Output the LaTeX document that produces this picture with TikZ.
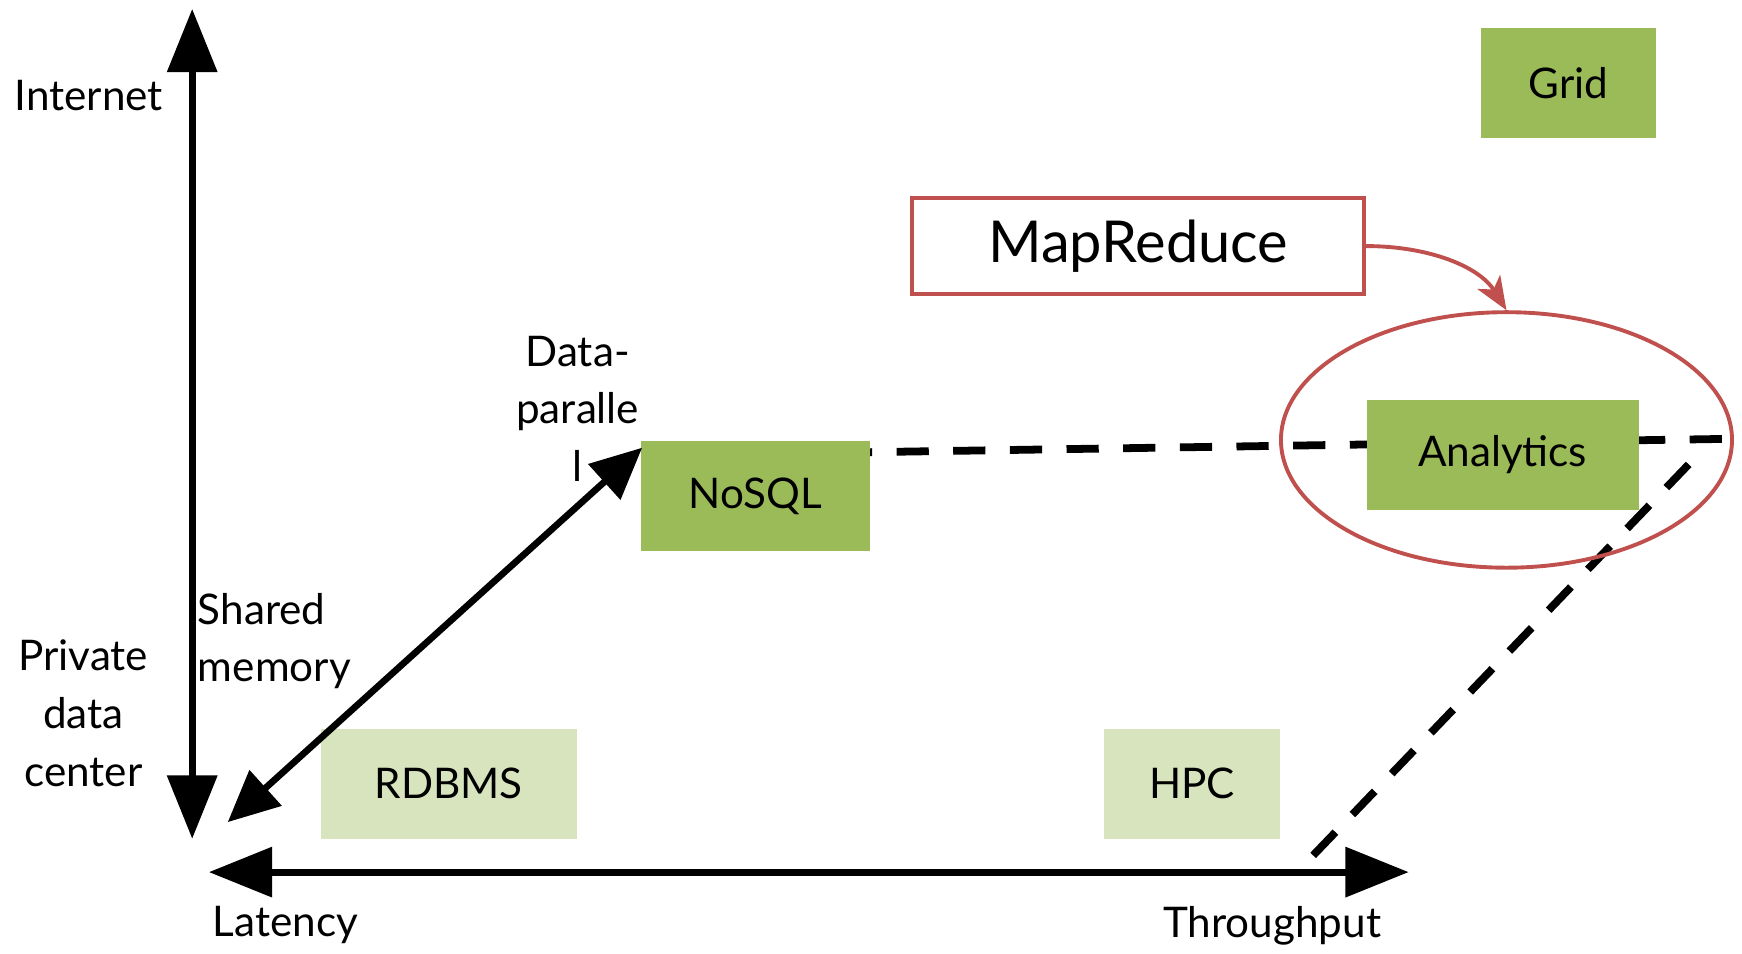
\documentclass[tikz,border=0pt]{standalone}
\usepackage{fontspec}
\setmainfont{Lato}
\usetikzlibrary{arrows.meta,shapes.geometric}
\definecolor{boxgreen}{HTML}{9BBB59}
\definecolor{boxpale}{HTML}{D7E4BD}
\definecolor{accentred}{HTML}{C0504D}
\tikzset{
  lbl/.style={font=\fontsize{38}{52}\selectfont, inner sep=0pt, align=center},
  catbox/.style={draw=none, inner sep=0pt, font=\fontsize{38}{52}\selectfont},
  darkbox/.style={catbox, fill=boxgreen},
  palebox/.style={catbox, fill=boxpale},
  axis/.style={line width=6.5pt, {Triangle[length=57pt,width=44pt]}-{Triangle[length=57pt,width=44pt]}},
  diag/.style={line width=6pt, {Triangle[length=46pt,width=42pt]}-{Triangle[length=46pt,width=42pt]}},
  dashline/.style={line width=7pt, dash pattern=on 29pt off 22pt},
  redline/.style={draw=accentred, line width=3.5pt}
}
\begin{document}
\begin{tikzpicture}[x=1pt,y=-1pt]
\useasboundingbox[fill=white] (0,0) rectangle (1568,858);

% axis end points
\coordinate (vtop) at (173,8);
\coordinate (vbot) at (173,755);
\coordinate (hleft) at (188,785);
\coordinate (hright) at (1268,785);

% dashed frontier lines
\coordinate (d1a) at (783,407);
\coordinate (d1b) at (1557,395);
\coordinate (d2a) at (1520,418);
\coordinate (d2b) at (1180,772);
\draw[dashline, dash phase=27pt] (d1a) -- (d1b);
\draw[dashline] (d2a) -- (d2b);

% axes
\draw[axis] (vbot) -- (vtop);
\draw[axis] (hleft) -- (hright);

% category boxes
\node[darkbox, minimum width=206pt, minimum height=99pt] (nosql) at (680,446.5) {NoSQL};
\node[palebox, minimum width=230pt, minimum height=99pt] (rdbms) at (404,705.5) {RDBMS};
\node[palebox, minimum width=158pt, minimum height=99pt] (hpc) at (1073,705.5) {HPC};
\node[darkbox, minimum width=158pt, minimum height=99pt] (grid) at (1412,74.5) {Grid};
\node[darkbox, minimum width=245pt, minimum height=99pt] (analytics) at (1352.5,409.5) {Analytics};

% highlight ellipse around analytics
\node[redline, ellipse, minimum width=406pt, minimum height=230pt, inner sep=0pt] (ring) at (1356,396) {};

% MapReduce call-out
\node[redline, fill=white, minimum width=407pt, minimum height=87pt, inner sep=0pt,
      font=\fontsize{52}{60}\selectfont] (mr) at (1024.5,221.5) {MapReduce};
\draw[redline, -{Stealth[length=30pt,width=24pt,inset=8pt]}]
  (mr.east) .. controls +(55,0) and +(-25,-40) .. (ring.north);

% diagonal double arrow
\coordinate (dlow) at (205,740);
\coordinate (dhigh) at (578,403);
\draw[diag] (dlow) -- (dhigh);

% axis labels
\node[lbl] (internet) at (80,86) {Internet};
\node[lbl] (private) at (75,642) {Private\\data\\center};
\node[lbl] (latency) at (257,833) {Latency};
\node[lbl] (throughput) at (1145,833) {Throughput};
\node[lbl, align=left, anchor=west] (shared) at (178,577) {Shared\\memory};
\node[lbl] (datapar) at (520,368) {Data-\\paralle\\l};
\end{tikzpicture}
\end{document}
